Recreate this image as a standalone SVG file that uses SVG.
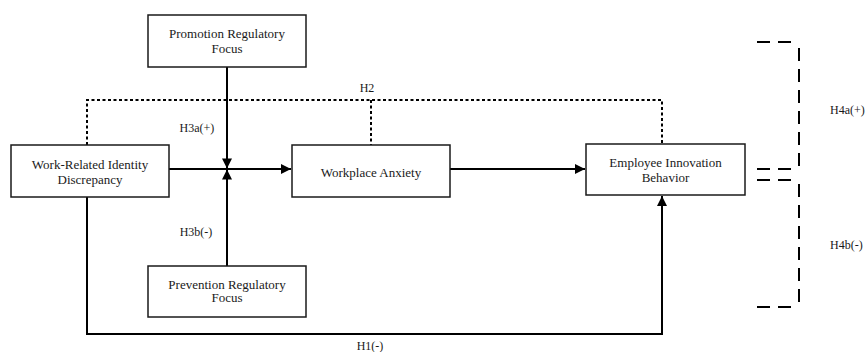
<svg xmlns="http://www.w3.org/2000/svg" width="866" height="352" viewBox="0 0 866 352">
<style>
.box{fill:#fff;stroke:#1a1a1a;stroke-width:1.5}
.t{font-family:"Liberation Serif","Times New Roman",serif;font-size:13px;fill:#1a1a1a;text-anchor:middle}
.lab{font-family:"Liberation Serif","Times New Roman",serif;font-size:12px;fill:#1a1a1a;text-anchor:middle}
.lab2{font-family:"Liberation Serif","Times New Roman",serif;font-size:12px;fill:#1a1a1a}
.solid{fill:none;stroke:#000;stroke-width:2}
.dot{fill:none;stroke:#000;stroke-width:2;stroke-dasharray:3 2.5}
.dash{fill:none;stroke:#000;stroke-width:2;stroke-dasharray:13 8}
</style>
<defs>
<marker id="ah" viewBox="0 0 10 10" refX="10" refY="5" markerWidth="11" markerHeight="10" markerUnits="userSpaceOnUse" orient="auto">
<path d="M0,0 L10,5 L0,10 Z" fill="#000"/>
</marker>
</defs>
<g id="connectors">
<path class="dot" d="M87,145 V100 H662 V144"/>
<path class="dot" d="M371,100 V145"/>
<path class="solid" d="M169,169 H291" marker-end="url(#ah)"/>
<path class="solid" d="M227,67 V168.5" marker-end="url(#ah)"/>
<path class="solid" d="M227,266 V169.5" marker-end="url(#ah)"/>
<path class="solid" d="M450,169 H585" marker-end="url(#ah)"/>
<path class="solid" d="M87,197 V334 H662 V196" marker-end="url(#ah)"/>
<g id="bracket">
<path class="dash" d="M757,42 H793"/>
<path class="dash" d="M799,48 V168"/>
<path class="dash" d="M757,169 H793"/>
<path class="dash" d="M757,180 H793"/>
<path class="dash" d="M799,184 V304"/>
<path class="dash" d="M757,307 H793"/>
</g>
<text class="lab" x="367" y="92">H2</text>
<text class="lab" x="197" y="132">H3a(+)</text>
<text class="lab" x="196" y="236">H3b(-)</text>
<text class="lab" x="370" y="350">H1(-)</text>
<text class="lab2" x="830" y="114">H4a(+)</text>
<text class="lab2" x="830" y="249">H4b(-)</text>
</g>
<g id="promotion">
<rect class="box" x="148" y="15" width="158" height="52"/>
<text class="t" x="227" y="37.5">Promotion Regulatory</text>
<text class="t" x="227" y="52.5">Focus</text>
</g>
<g id="wrid">
<rect class="box" x="11" y="145" width="158" height="52"/>
<text class="t" x="90" y="168.5">Work-Related Identity</text>
<text class="t" x="90" y="183.5">Discrepancy</text>
</g>
<g id="anxiety">
<rect class="box" x="292" y="145" width="158" height="52"/>
<text class="t" x="371" y="176.5">Workplace Anxiety</text>
</g>
<g id="eib">
<rect class="box" x="586" y="144" width="159" height="51"/>
<text class="t" x="665.5" y="166.5">Employee Innovation</text>
<text class="t" x="665.5" y="181.5">Behavior</text>
</g>
<g id="prevention">
<rect class="box" x="148" y="266" width="158" height="51"/>
<text class="t" x="227" y="288.5">Prevention Regulatory</text>
<text class="t" x="227" y="302">Focus</text>
</g>
</svg>
